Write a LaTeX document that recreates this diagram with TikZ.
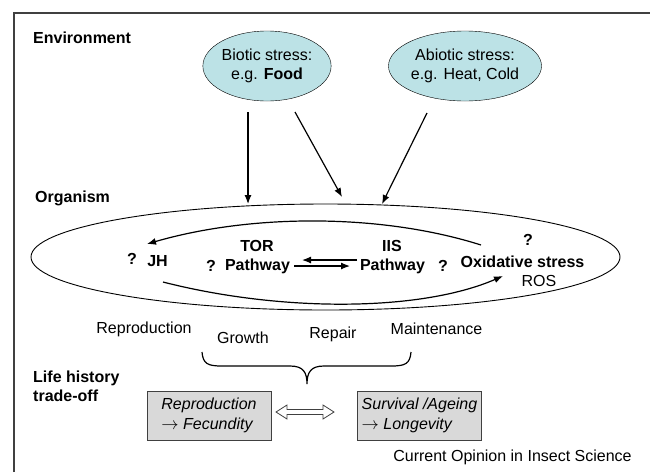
\documentclass[tikz,border=0pt]{standalone}
\usepackage{fontspec}
\setmainfont{Liberation Sans}
\usetikzlibrary{shapes.geometric,arrows.meta}
\definecolor{stresscyan}{HTML}{BCE2E6}
\definecolor{boxgray}{HTML}{D9D9D9}
\definecolor{framegray}{HTML}{404040}

\begin{document}
\begin{tikzpicture}[x=1pt,y=-1pt,
  every node/.style={font=\fontsize{16}{19}\selectfont, inner sep=0pt, text=black},
  head/.style={font=\fontsize{16}{19}\selectfont\bfseries},
  stress/.style={ellipse, draw, fill=stresscyan, align=center, minimum height=70pt},
  tradebox/.style={draw=framegray, fill=boxgray, minimum width=124pt, minimum height=49pt,
    align=left, font=\fontsize{16}{20}\selectfont\itshape},
  pil/.style={-{Latex[length=9pt,width=7pt]}, line width=1.2pt}]
  \useasboundingbox (0,0) rectangle (650,472);

  % frame
  \draw[line width=1.3pt, framegray] (14,472) -- (14,13) -- (650,13);

  % environment
  \node[head, anchor=west] (env) at (33,38) {Environment};
  \node[stress, minimum width=117pt] (bio) at (267,66) {Biotic stress:\\e.g. \textbf{Food}};
  \node[stress, minimum width=141pt] (abio) at (465,66) {Abiotic stress:\\e.g. Heat, Cold};

  % organism
  \node[head, anchor=west] (orgtxt) at (35,198) {Organism};
  \node[ellipse, draw, line width=0.9pt, minimum width=589pt, minimum height=106pt] (org) at (325.5,257) {};

  \node[head] (qjh) at (132,259) {?};
  \node[head] (jh) at (157.5,261) {JH};
  \node[head] (tor) at (257,246) {TOR};
  \node[head] (qtor) at (211,266) {?};
  \node[head] (torp) at (257.5,266) {Pathway};
  \node[head] (iis) at (392,246) {IIS};
  \node[head] (iisp) at (392.5,266) {Pathway};
  \node[head] (qiis) at (443,266) {?};
  \node[head] (qox) at (528,240) {?};
  \node[head] (ox) at (522.5,262) {Oxidative stress};
  \node (ros) at (539,281) {ROS};

  % stress arrows
  \coordinate (a1) at (248,112);
  \coordinate (a1e) at (248,204);
  \coordinate (a2) at (295,112);
  \coordinate (a2e) at (342,197);
  \coordinate (a3) at (427,113);
  \coordinate (a3e) at (382,204);
  \draw[pil] (a1) -- (a1e);
  \draw[pil] (a2) -- (a2e);
  \draw[pil] (a3) -- (a3e);

  % links inside the organism
  \coordinate (oxtop) at (481,245);
  \coordinate (jhtop) at (147,244);
  \coordinate (jhbot) at (163,282);
  \coordinate (rosin) at (503,276);
  \draw[pil] (oxtop) .. controls (380,213) and (250,214) .. (jhtop);
  \draw[pil] (jhbot) .. controls (280,312) and (420,312) .. (rosin);

  \coordinate (iisin) at (357,260);
  \coordinate (torout) at (302,260);
  \coordinate (torin) at (294,266);
  \coordinate (iisout) at (350,266);
  \draw[pil] (iisin) -- (torout);
  \draw[pil] (torin) -- (iisout);

  % allocation
  \node (repro) at (144,329) {Reproduction};
  \node (growth) at (243,338) {Growth};
  \node (repair) at (333,334) {Repair};
  \node (maint) at (436.5,329) {Maintenance};
  \draw[line width=1.2pt] (202,352) .. controls (203,364) and (208,366) .. (222,366) -- (290,366)
    .. controls (303,366) and (307,372) .. (307,384)
    .. controls (307,372) and (311,366) .. (324,366) -- (391,366)
    .. controls (405,366) and (410,364) .. (411,352);

  % trade-off
  \node[head, anchor=west, align=left] (life) at (33,386) {Life history\\trade-off};
  \node[tradebox] (fec) at (209,415.5) {Reproduction\\$\rightarrow$ Fecundity};
  \node[tradebox] (lon) at (419.5,415.5) {Survival /Ageing\\$\rightarrow$ Longevity};
  \draw[line width=0.8pt, framegray, shift={(305,412)}]
    (-29,0) -- (-18,-7) -- (-18,-2.5) -- (18,-2.5) -- (18,-7) -- (29,0)
    -- (18,7) -- (18,2.5) -- (-18,2.5) -- (-18,7) -- cycle;

  \node (credit) at (512.5,457) {Current Opinion in Insect Science};
\end{tikzpicture}
\end{document}
